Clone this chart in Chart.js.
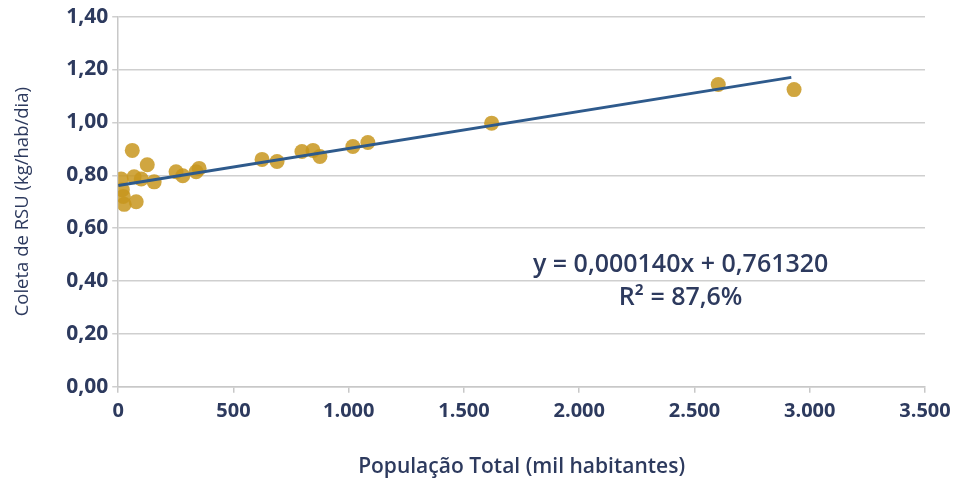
<!DOCTYPE html>
<html lang="pt-BR">
<head>
    <meta charset="UTF-8">
    <title>Coleta de RSU x População</title>
    <script src="https://cdn.jsdelivr.net/npm/chart.js"></script>
    <style>
        body { margin: 0; background: #fff; }
        #wrap { width: 965px; height: 482px; }
    </style>
</head>
<body>
    <div id="wrap"><canvas id="coletaChart"></canvas></div>

    <script>
        // populacao (mil hab) e coleta (kg/hab/dia)
        const populacao = [13, 18, 22, 26, 61, 69, 78, 100, 126, 156, 251, 280, 338, 351,
                           624, 689, 797, 845, 875, 1018, 1083, 1620, 2603, 2932];
        const coleta = [0.786, 0.745, 0.72, 0.69, 0.894, 0.794, 0.70, 0.786, 0.84, 0.775, 0.813, 0.798, 0.813, 0.826,
                        0.86, 0.852, 0.89, 0.894, 0.871, 0.909, 0.924, 0.997, 1.143, 1.124];

        // linha de tendencia (extremos)
        const tendX = [0, 2920];
        const tendY = [0.7613, 1.1701];

        const xTicks = [0, 500, 1000, 1500, 2000, 2500, 3000, 3500];
        const yTicks = [0, 0.2, 0.4, 0.6, 0.8, 1.0, 1.2, 1.4];

        const equacao = ['y = 0,000140x + 0,761320', 'R² = 87,6%'];

        const navy = '#2d3a5e';
        const fonte = "'Open Sans', sans-serif";

        const textoEquacao = {
            id: 'textoEquacao',
            afterDatasetsDraw(chart) {
                const { ctx, scales } = chart;
                ctx.save();
                ctx.fillStyle = navy;
                ctx.font = '600 25px ' + fonte;
                ctx.textAlign = 'center';
                ctx.textBaseline = 'middle';
                const cx = scales.x.getPixelForValue(2440);
                ctx.fillText(equacao[0], cx, scales.y.getPixelForValue(0.462));
                ctx.fillText(equacao[1], cx, scales.y.getPixelForValue(0.335));
                ctx.restore();
            }
        };

        const ctx = document.getElementById('coletaChart').getContext('2d');
        new Chart(ctx, {
            type: 'scatter',
            data: {
                datasets: [{
                    label: 'Municípios',
                    data: populacao.map((p, i) => ({ x: p, y: coleta[i] })),
                    backgroundColor: 'rgba(200, 150, 30, 0.85)',
                    borderWidth: 0,
                    pointRadius: 7.5,
                    order: 2
                }, {
                    type: 'line',
                    label: 'Tendência',
                    data: tendX.map((x, i) => ({ x: x, y: tendY[i] })),
                    borderColor: '#2e5a8c',
                    borderWidth: 3,
                    pointRadius: 0,
                    fill: false,
                    order: 1
                }]
            },
            options: {
                responsive: true,
                maintainAspectRatio: false,
                animation: false,
                layout: { padding: { top: 16, right: 40, left: 12, bottom: 2 } },
                plugins: {
                    legend: { display: false },
                    tooltip: { enabled: false }
                },
                scales: {
                    x: {
                        type: 'linear',
                        min: 0,
                        max: 3500,
                        afterBuildTicks: axis => { axis.ticks = xTicks.map(v => ({ value: v })); },
                        grid: { drawOnChartArea: false, drawTicks: true, tickLength: 6, color: '#c8c8c8', lineWidth: 1.5 },
                        border: { color: '#c8c8c8', width: 1.5 },
                        ticks: {
                            color: navy,
                            font: { family: fonte, size: 20, weight: 'bold' },
                            padding: 6,
                            callback: v => v.toLocaleString('pt-BR')
                        },
                        title: {
                            display: true,
                            text: 'População Total (mil habitantes)',
                            color: navy,
                            font: { family: fonte, size: 21, weight: '600' },
                            padding: { top: 26, bottom: 0 }
                        }
                    },
                    y: {
                        min: 0,
                        max: 1.4,
                        afterBuildTicks: axis => { axis.ticks = yTicks.map(v => ({ value: v })); },
                        grid: { color: '#cfcfcf', lineWidth: 1.5, tickLength: 6 },
                        border: { color: '#c8c8c8', width: 1.5 },
                        ticks: {
                            color: navy,
                            font: { family: fonte, size: 21, weight: 'bold' },
                            padding: 4,
                            callback: v => v.toFixed(2).replace('.', ',')
                        },
                        title: {
                            display: true,
                            text: 'Coleta de RSU (kg/hab/dia)',
                            color: navy,
                            font: { family: fonte, size: 18.5 },
                            padding: { top: 0, bottom: 28 }
                        }
                    }
                }
            },
            plugins: [textoEquacao]
        });
    </script>
</body>
</html>
